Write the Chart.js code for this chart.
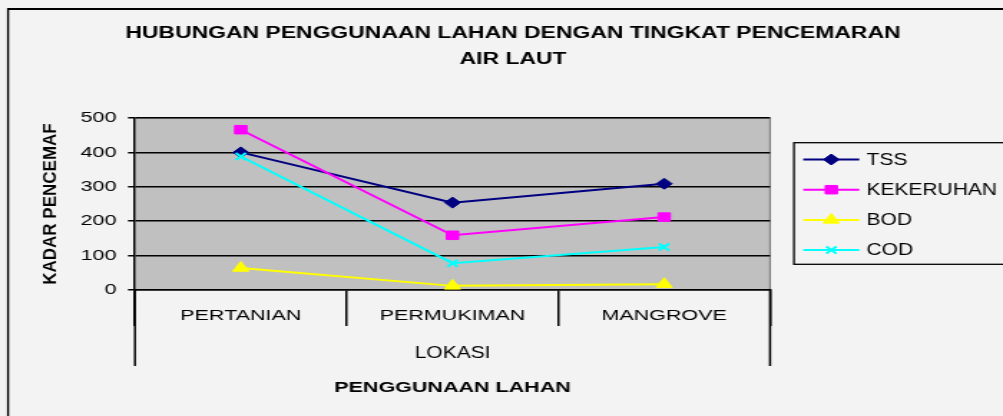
<!DOCTYPE html>
<html><head><meta charset="utf-8">
<script src="https://cdn.jsdelivr.net/npm/chart.js@4.4.1/dist/chart.umd.min.js"></script>
<style>
html,body{margin:0;padding:0;background:#f3f3f3;overflow:hidden;width:1003px;height:416px;}
#wrap{position:absolute;left:0;top:0;width:700px;height:416px;transform:scaleX(1.432857);transform-origin:0 0;}
canvas{display:block;}
</style></head><body>
<div id="wrap"><canvas id="c"></canvas></div>
<script>
// ---- data ----
const categories = ['PERTANIAN', 'PERMUKIMAN', 'MANGROVE'];
const seriesNames = ['TSS', 'KEKERUHAN', 'BOD', 'COD'];
const tss = [400, 254, 309];
const kekeruhan = [466, 159, 212];
const bod = [64, 12, 17];
const cod = [388, 78, 125];
const yTicks = [0, 100, 200, 300, 400, 500];
const chartTitle = ['HUBUNGAN PENGGUNAAN LAHAN DENGAN TINGKAT PENCEMARAN', 'AIR LAUT'];
const yTitle = 'KADAR PENCEMAF';
const xGroupLabel = 'LOKASI';
const xTitle = 'PENGGUNAAN LAHAN';

// ---- layout (base space, stretched horizontally by CSS) ----
const S = 1003 / 700;
const FONT = '"Liberation Sans", Arial, sans-serif';
const AREA_LEFT = 94.2, AREA_RIGHT = 537.4, AREA_TOP = 118, AREA_BOTTOM = 290;

const styles = [
  {color: '#000080', pointStyle: 'rectRot', radius: 5.5},
  {color: '#ff00ff', pointStyle: 'rect', radius: 6},
  {color: '#ffff00', pointStyle: 'triangle', radius: 6.5},
  {color: '#00ffff', pointStyle: 'crossRot', radius: 5}
];
const seriesValues = [tss, kekeruhan, bod, cod];

function marker(ctx, style, r, x, y) {
  ctx.beginPath();
  if (style === 'rectRot') {
    ctx.moveTo(x, y - r); ctx.lineTo(x + r, y); ctx.lineTo(x, y + r); ctx.lineTo(x - r, y); ctx.closePath();
    ctx.fill(); ctx.stroke();
  } else if (style === 'rect') {
    const s = Math.SQRT1_2 * r; ctx.rect(x - s, y - s, 2 * s, 2 * s); ctx.fill(); ctx.stroke();
  } else if (style === 'triangle') {
    let a = 0;
    ctx.moveTo(x + Math.sin(a) * r, y - Math.cos(a) * r);
    a += 2 * Math.PI / 3; ctx.lineTo(x + Math.sin(a) * r, y - Math.cos(a) * r);
    a += 2 * Math.PI / 3; ctx.lineTo(x + Math.sin(a) * r, y - Math.cos(a) * r);
    ctx.closePath(); ctx.fill(); ctx.stroke();
  } else if (style === 'crossRot') {
    const s = Math.SQRT1_2 * r;
    ctx.moveTo(x - s, y - s); ctx.lineTo(x + s, y + s);
    ctx.moveTo(x - s, y + s); ctx.lineTo(x + s, y - s); ctx.stroke();
  }
}

function txt(ctx, s, x, y, font, sx, align) {
  ctx.save();
  ctx.translate(x, y); ctx.scale(sx, 1);
  ctx.font = font; ctx.textAlign = align || 'center'; ctx.textBaseline = 'middle';
  ctx.fillStyle = '#000'; ctx.fillText(s, 0, 0);
  ctx.restore();
}

const decor = {
  id: 'decor',
  beforeDraw(chart) {
    const {ctx, chartArea: a} = chart;
    ctx.save();
    ctx.fillStyle = '#c0c0c0';
    ctx.fillRect(a.left, a.top, a.right - a.left, a.bottom - a.top);
    ctx.strokeStyle = '#808080'; ctx.lineWidth = 1.2;
    ctx.beginPath(); ctx.moveTo(a.left, a.top); ctx.lineTo(a.right, a.top); ctx.lineTo(a.right, a.bottom); ctx.stroke();
    ctx.restore();
  },
  afterDraw(chart) {
    const {ctx, chartArea: a} = chart;
    ctx.save();
    // outer edges of the category group
    ctx.strokeStyle = '#000'; ctx.lineWidth = 1.5;
    ctx.beginPath();
    ctx.moveTo(a.left, a.bottom); ctx.lineTo(a.left, 366);
    ctx.moveTo(a.right, a.bottom); ctx.lineTo(a.right, 366);
    ctx.stroke();
    // group label
    txt(ctx, xGroupLabel, (a.left + a.right) / 2, 353.5, '17px ' + FONT, 0.86);
    // chart title
    txt(ctx, chartTitle[0], 358, 34, 'bold 16px ' + FONT, 1);
    txt(ctx, chartTitle[1], 358, 59.5, 'bold 16px ' + FONT, 1);
    // y title (rotated, not stretched)
    ctx.save();
    ctx.translate(35.5, (a.top + a.bottom) / 2);
    ctx.scale(1 / S, 1);
    ctx.rotate(-Math.PI / 2);
    ctx.font = 'bold 17px ' + FONT; ctx.textAlign = 'center'; ctx.textBaseline = 'middle';
    ctx.fillStyle = '#000'; ctx.fillText(yTitle, 0, 0);
    ctx.restore();
    // legend
    const lx = 554.1, ly = 142.7, lb = 264.3;
    ctx.strokeStyle = '#000'; ctx.lineWidth = 1.3;
    ctx.strokeRect(lx, ly, 200, lb - ly);
    chart.data.datasets.forEach((ds, i) => {
      const y = 159.5 + i * 30.2;
      ctx.strokeStyle = ds.borderColor; ctx.fillStyle = ds.borderColor; ctx.lineWidth = 2;
      ctx.beginPath(); ctx.moveTo(560.6, y); ctx.lineTo(599.7, y); ctx.stroke();
      ctx.lineWidth = ds.pointBorderWidth;
      marker(ctx, ds.pointStyle, ds.pointRadius, 580.2, y);
      txt(ctx, ds.label, 604.8, y + 0.5, '17px ' + FONT, 0.86, 'left');
    });
    // outer chart border
    ctx.strokeStyle = '#000';
    ctx.lineWidth = 2;
    ctx.beginPath(); ctx.moveTo(5, 9); ctx.lineTo(720, 9); ctx.stroke();
    ctx.lineWidth = 1.4;
    ctx.beginPath(); ctx.moveTo(5.6, 8); ctx.lineTo(5.6, 430); ctx.stroke();
    ctx.restore();
  }
};

const datasets = seriesNames.map((name, i) => ({
  label: name,
  data: seriesValues[i],
  borderColor: styles[i].color,
  backgroundColor: styles[i].color,
  pointBackgroundColor: styles[i].color,
  pointBorderColor: styles[i].color,
  pointStyle: styles[i].pointStyle,
  pointRadius: styles[i].radius,
  pointHoverRadius: styles[i].radius,
  pointBorderWidth: styles[i].pointStyle === 'crossRot' ? 2 : 1,
  borderWidth: 2,
  tension: 0,
  fill: false,
  order: seriesNames.length - i
}));

new Chart(document.getElementById('c'), {
  type: 'line',
  data: {labels: categories, datasets},
  options: {
    responsive: true,
    maintainAspectRatio: false,
    animation: false,
    events: [],
    layout: {padding: {left: 0, top: AREA_TOP, right: 700 - AREA_RIGHT, bottom: 0}},
    plugins: {legend: {display: false}, title: {display: false}, tooltip: {enabled: false}},
    scales: {
      x: {
        type: 'category',
        offset: true,
        afterFit(s) { s.height = 416 - AREA_BOTTOM; },
        grid: {offset: true, drawOnChartArea: false, drawTicks: true, tickLength: 36, color: '#000', lineWidth: 1.5},
        border: {display: true, color: '#000', width: 1.5},
        ticks: {padding: -19.5, color: '#000', font: {family: FONT, size: 15}, maxRotation: 0, autoSkip: false},
        title: {display: true, text: xTitle, color: '#000', font: {family: FONT, size: 15, weight: 'bold'}, padding: {top: 0, bottom: 19}}
      },
      y: {
        min: 0, max: 500,
        afterBuildTicks(s) { s.ticks = yTicks.map(v => ({value: v})); },
        afterFit(s) { s.width = AREA_LEFT; },
        grid: {color: '#000', lineWidth: 1.5, drawTicks: true, tickLength: 4.9},
        border: {display: true, color: '#000', width: 1.5},
        ticks: {padding: 8, color: '#000', font: {family: FONT, size: 15}}
      }
    }
  },
  plugins: [decor]
});
</script>
</body></html>
